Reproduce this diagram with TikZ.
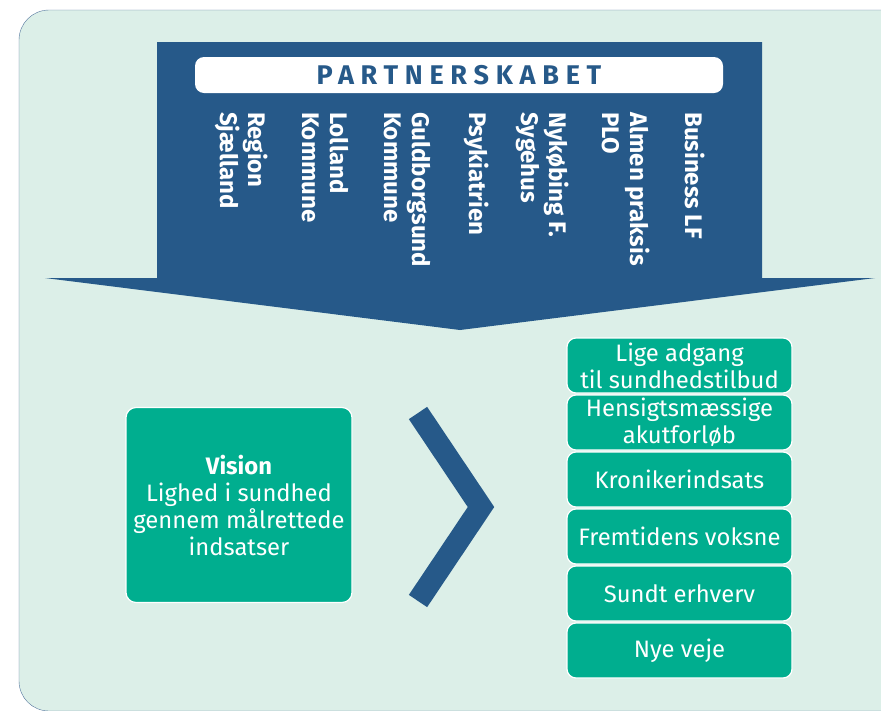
\documentclass[tikz,border=0pt]{standalone}
\usepackage{fontspec}
\setmainfont{Fira Sans}
\newfontfamily\spacedfont[LetterSpace=25]{Fira Sans}
\definecolor{bgmint}{RGB}{220,239,232}
\definecolor{partnerblue}{RGB}{38,89,137}
\definecolor{visiongreen}{RGB}{0,174,143}
\definecolor{frameline}{RGB}{85,118,158}
\tikzset{
	partner/.style={rotate=-90, anchor=west, align=left, text=white, inner sep=0pt,
		font=\fontsize{24}{28}\selectfont\bfseries},
	goalbox/.style={draw=white, line width=1.2pt, fill=visiongreen, rounded corners=9pt,
		minimum width=225pt, minimum height=55pt, text=white, align=center, inner sep=0pt,
		font=\fontsize{23.8}{27}\selectfont},
}

\begin{document}
\begin{tikzpicture}[x=1pt,y=-1pt]
			\useasboundingbox (0,0) rectangle (881,710);
			\clip (0,0) rectangle (881,710);
			\draw[frameline, fill=bgmint, rounded corners=30pt] (19,10) rectangle (930,711);

			\fill[partnerblue] (157,42) -- (762,42) -- (762,278) -- (875,278) -- (460,330)
				-- (45,278) -- (157,278) -- cycle;
			\node (title) at (459,75) [fill=white, rounded corners=9pt, minimum width=528pt,
				minimum height=36pt, inner sep=0pt, text=partnerblue,
				font=\fontsize{27}{27}\selectfont\spacedfont\bfseries] {PARTNERSKABET};

			\node (region)   at (242,112) [partner] {Region\\Sjælland};
			\node (lolland)  at (325,112) [partner] {Lolland\\Kommune};
			\node (guldborg) at (407,112) [partner] {Guldborgsund\\Kommune};
			\node (psyk)     at (477,112) [partner] {Psykiatrien};
			\node (sygehus)  at (543,112) [partner] {Nykøbing F.\\Sygehus};
			\node (almen)    at (626,112) [partner] {Almen praksis\\PLO};
			\node (business) at (695,112) [partner] {Business LF};

			\node (vision) at (239,505) [goalbox, minimum width=226pt, minimum height=195pt,
				rounded corners=10pt] {\textbf{Vision}\\Lighed i sundhed\\gennem målrettede\\indsatser};

			\draw[partnerblue, line width=22pt] (418,413) -- (481,507) -- (418,601);

			\node (adgang)  at (679.5,365.5) [goalbox] {Lige adgang\\til sundhedstilbud};
			\node (akut)    at (679.5,422.5) [goalbox] {Hensigtsmæssige\\akutforløb};
			\node (kronik)  at (679.5,479.5) [goalbox] {Kronikerindsats};
			\node (voksne)  at (679.5,536.5) [goalbox] {Fremtidens voksne};
			\node (erhverv) at (679.5,593.5) [goalbox] {Sundt erhverv};
			\node (veje)    at (679.5,650.5) [goalbox] {Nye veje};

		\end{tikzpicture}
\end{document}
